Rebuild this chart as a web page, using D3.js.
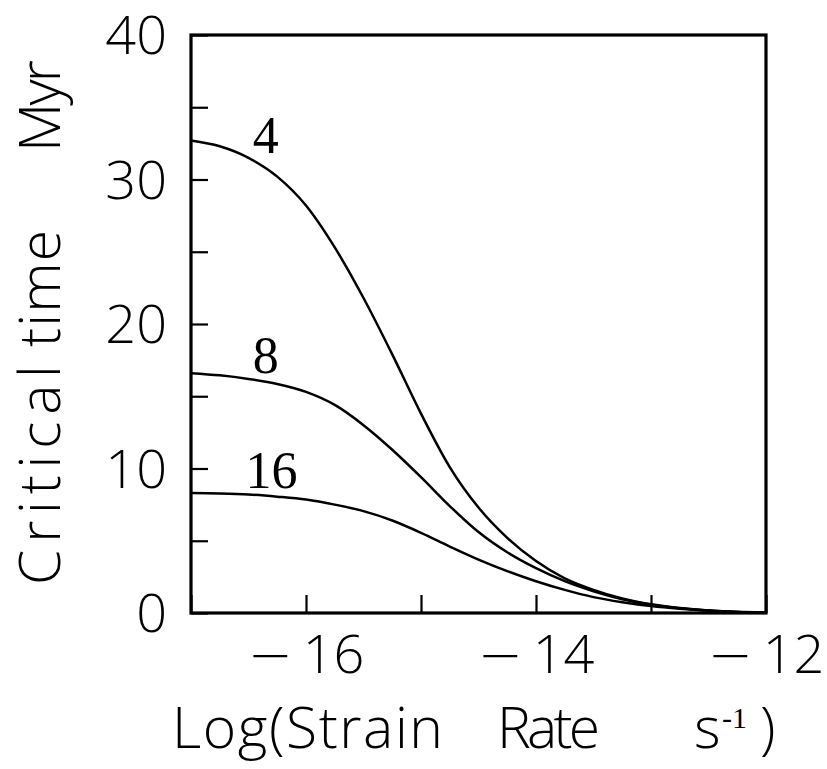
<!DOCTYPE html>
<html lang="en">
<head>
<meta charset="UTF-8">
<script src="https://d3js.org/d3.v7.min.js"></script>
<title>Critical time</title>
<style>
    body { margin: 0; background: #fff; }
    .tick-label, .axis-title { font-family: "Open Sans", "DejaVu Sans", sans-serif; font-weight: 300; fill: #000; }
    .minus { font-family: "DejaVu Sans ExtraLight", "DejaVu Sans", sans-serif; font-weight: 200; }
    .curve-label, .sup { font-family: "Liberation Serif", "DejaVu Serif", serif; fill: #000; }
    .curve { fill: none; stroke: #000; stroke-width: 2.5; }
</style>
</head>
<body>
<div id="container"></div>
<script>
    // data
    var strainRate = [-17, -16.75, -16.5, -16.25, -16, -15.75, -15.5, -15.25, -15, -14.75, -14.5,
                      -14.25, -14, -13.75, -13.5, -13.25, -13, -12.75, -12.5, -12.25, -12];
    var time4  = [32.7, 32.3, 31.5, 30.2, 28.2, 25.3, 21.8, 17.9, 13.8, 10.1, 7.3,
                  5.2, 3.6, 2.4, 1.6, 1.0, 0.6, 0.35, 0.18, 0.08, 0.03];
    var time8  = [16.6, 16.45, 16.2, 15.85, 15.3, 14.4, 13.0, 11.3, 9.4, 7.4, 5.6,
                  4.2, 3.1, 2.2, 1.5, 0.95, 0.58, 0.33, 0.17, 0.07, 0.03];
    var time16 = [8.3, 8.27, 8.2, 8.05, 7.85, 7.5, 7.05, 6.4, 5.55, 4.6, 3.7,
                  2.9, 2.2, 1.6, 1.1, 0.75, 0.48, 0.29, 0.15, 0.06, 0.02];
    var seriesNames = ["4", "8", "16"];
    var labelAtX = [-16.35, -16.35, -16.3];
    var labelAtY = [31.8, 16.6, 8.65];
    var xTicks = [-17, -16, -15, -14, -13, -12];
    var xTickLabels = [-16, -14, -12];
    var yTicks = [0, 5, 10, 15, 20, 25, 30, 35, 40];
    var yTickLabels = [0, 10, 20, 30, 40];

    var svg_width = 827, svg_height = 769,
        margin = {top: 35, left: 191, right: 61, bottom: 156},
        g_width = svg_width - margin.left - margin.right,
        g_height = svg_height - margin.top - margin.bottom;

    var svg = d3.select("#container").append("svg")
        .attr("width", svg_width).attr("height", svg_height);
    var g = svg.append("g").attr("transform", `translate(${margin.left},${margin.top})`);

    var x = d3.scaleLinear().domain([-17, -12]).range([0, g_width]);
    var y = d3.scaleLinear().domain([0, 40]).range([g_height, 0]);

    // ticks point inward
    var xAxis = d3.axisBottom(x).tickValues(xTicks).tickSize(-18).tickFormat("");
    var yAxis = d3.axisLeft(y).tickValues(yTicks).tickSize(-17).tickFormat("");
    g.append("g").attr("transform", `translate(0,${g_height})`).call(xAxis)
        .call(s => s.select(".domain").remove())
        .selectAll("line").attr("stroke-width", 2.2);
    g.append("g").call(yAxis)
        .call(s => s.select(".domain").remove())
        .selectAll("line").attr("stroke-width", 2.2);

    // frame
    g.append("rect").attr("width", g_width).attr("height", g_height)
        .attr("fill", "none").attr("stroke", "#000").attr("stroke-width", 3.2);

    // tick labels
    var xl = g.selectAll(".xl").data(xTickLabels).enter().append("text")
        .attr("class", "tick-label")
        .attr("x", d => x(d)).attr("y", g_height + 60)
        .attr("text-anchor", "middle").attr("font-size", 54);
    xl.append("tspan").attr("class", "minus").text("\u2212");
    xl.append("tspan").attr("dx", 10).text(d => Math.abs(d));

    g.selectAll(".yl").data(yTickLabels).enter().append("text")
        .attr("class", "tick-label")
        .attr("x", -24).attr("y", d => y(d)).attr("dy", "0.36em")
        .attr("text-anchor", "end").attr("font-size", 54)
        .text(d => d);

    // curves
    var series = [time4, time8, time16];
    var line = d3.line()
        .x((d, i) => x(strainRate[i]))
        .y(d => y(d))
        .curve(d3.curveMonotoneX);
    g.selectAll(".curve").data(series).enter().append("path")
        .attr("class", "curve").attr("d", line);

    // curve labels
    g.selectAll(".curve-label").data(seriesNames).enter().append("text")
        .attr("class", "curve-label")
        .attr("x", (d, i) => x(labelAtX[i]))
        .attr("y", (d, i) => y(labelAtY[i]))
        .attr("text-anchor", "middle").attr("font-size", 52)
        .text(d => d);

    // axis titles, word by word
    function word(parent, txt, px, len) {
        var t = parent.append("text").attr("class", "axis-title")
            .attr("x", px).attr("font-size", 57).text(txt);
        if (len) t.attr("textLength", len).attr("lengthAdjust", "spacing");
        return t;
    }
    var xt = svg.append("g").attr("transform", "translate(0,748)");
    word(xt, "Log(Strain", 172, 271);
    word(xt, "Rate", 497, 103);
    word(xt, "s", 694);
    xt.append("text").attr("class", "sup").attr("x", 722).attr("y", -20)
        .attr("font-size", 30).text("-1");
    word(xt, ")", 760);

    var yt = svg.append("g").attr("transform", "translate(60,0) rotate(-90)");
    word(yt, "Critical", -585, 220);
    word(yt, "time", -347, 117);
    word(yt, "Myr", -152, 92);
</script>
</body>
</html>
